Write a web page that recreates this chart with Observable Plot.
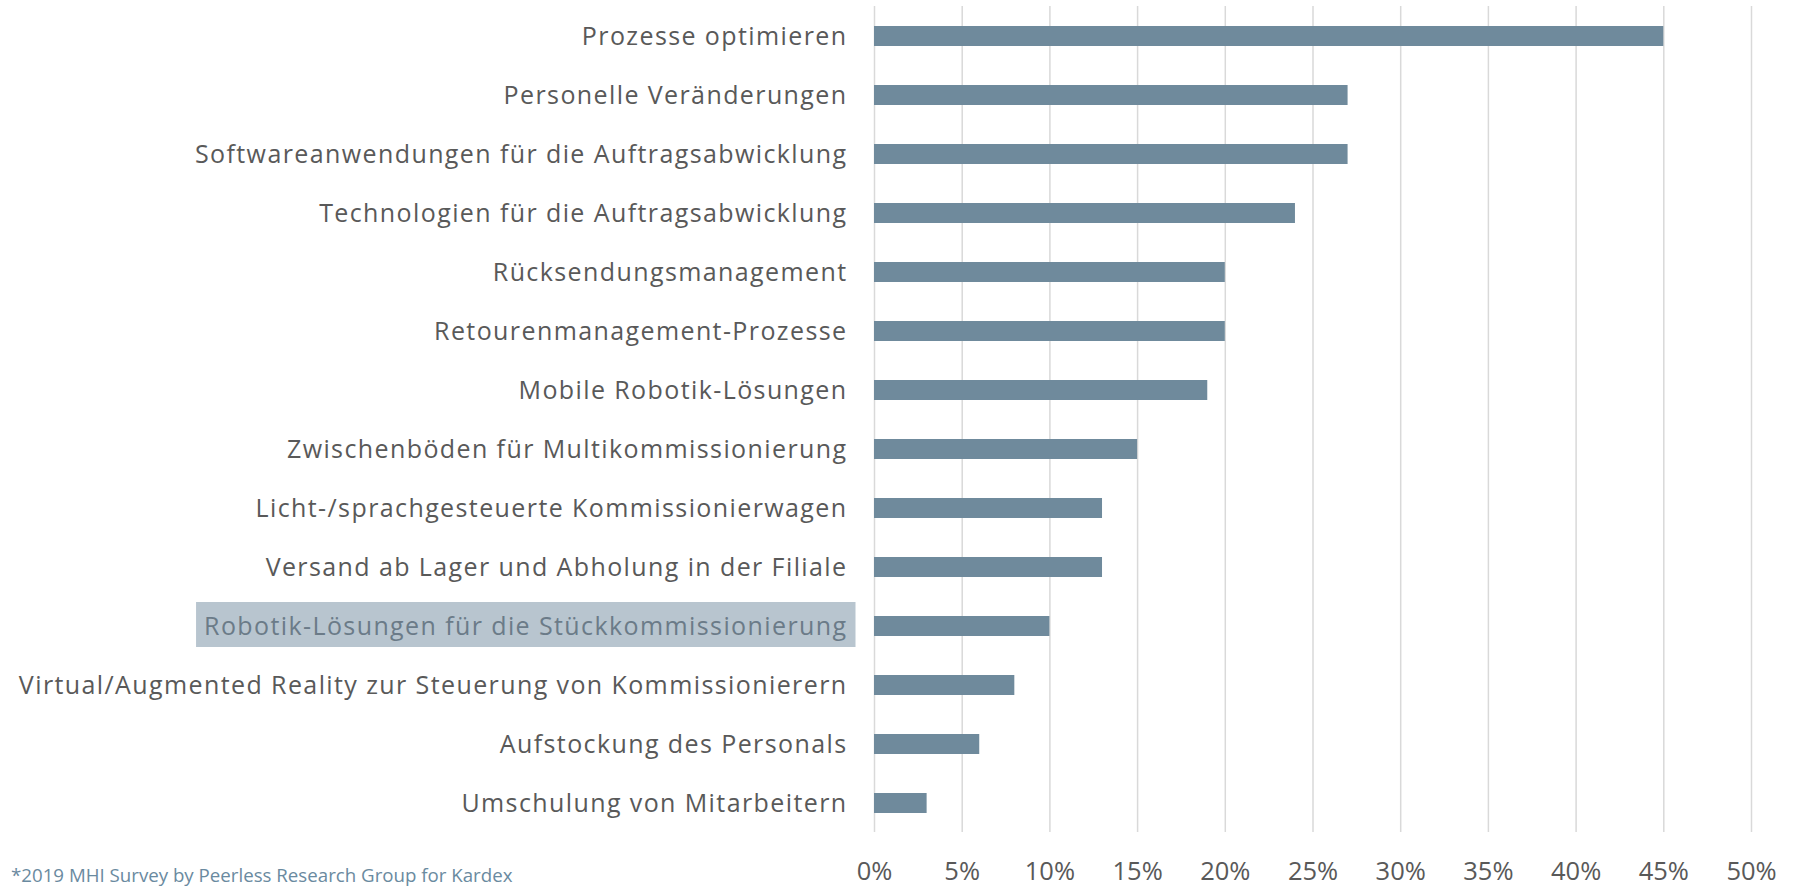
<!DOCTYPE html>
<html>
<head>
<meta charset="utf-8">
<script src="https://cdn.jsdelivr.net/npm/d3@7"></script>
<script src="https://cdn.jsdelivr.net/npm/@observablehq/plot@0.6"></script>
<style>
  html, body { margin: 0; padding: 0; background: #fff; overflow: hidden; }
  #wrap { position: relative; width: 1799px; height: 889px; font-family: "Open Sans", sans-serif; }
  #caption { position: absolute; left: 11px; top: 862px; font-size: 18.7px; color: #6a8aa0; white-space: nowrap; }
</style>
</head>
<body>
<div id="wrap">
  <div id="chart"></div>
  <div id="caption"></div>
</div>
<script>
const categories = [
  "Prozesse optimieren",
  "Personelle Veränderungen",
  "Softwareanwendungen für die Auftragsabwicklung",
  "Technologien für die Auftragsabwicklung",
  "Rücksendungsmanagement",
  "Retourenmanagement-Prozesse",
  "Mobile Robotik-Lösungen",
  "Zwischenböden für Multikommissionierung",
  "Licht-/sprachgesteuerte Kommissionierwagen",
  "Versand ab Lager und Abholung in der Filiale",
  "Robotik-Lösungen für die Stückkommissionierung",
  "Virtual/Augmented Reality zur Steuerung von Kommissionierern",
  "Aufstockung des Personals",
  "Umschulung von Mitarbeitern"
];
const values = [0.45, 0.27, 0.27, 0.24, 0.20, 0.20, 0.19, 0.15, 0.13, 0.13, 0.10, 0.08, 0.06, 0.03];
const xTicks = [0, 0.05, 0.10, 0.15, 0.20, 0.25, 0.30, 0.35, 0.40, 0.45, 0.50];
const highlighted = "Robotik-Lösungen für die Stückkommissionierung";
const captionText = "*2019 MHI Survey by Peerless Research Group for Kardex";

const data = categories.map((c, i) => ({category: c, value: values[i]}));

const chart = Plot.plot({
  width: 1799,
  height: 889,
  marginLeft: 874,
  marginRight: 48,
  marginTop: 6,
  marginBottom: 57,
  style: {fontFamily: "Open Sans, sans-serif", background: "#fff"},
  x: {domain: [0, 0.5], axis: null},
  y: {domain: categories, paddingInner: 0.662, paddingOuter: 0.304, axis: null},
  marks: [
    Plot.ruleX(xTicks, {stroke: "#d9d9d9", strokeWidth: 1.5}),
    Plot.barX(data, {y: "category", x: "value", fill: "#6f8a9c"}),
    Plot.axisX(xTicks, {
      tickSize: 0, tickPadding: 29, fontSize: 25.5, color: "#595959", label: null,
      tickFormat: d => Math.round(d * 100) + "%"
    }),
    Plot.axisY({
      tickSize: 0, tickPadding: 27, fontSize: 25, label: null,
      fill: d => d === highlighted ? "#6b7b88" : "#595959"
    })
  ]
});
document.getElementById("chart").appendChild(chart);
document.getElementById("caption").textContent = captionText;

const svg = d3.select(chart);
// widen the category labels slightly
svg.selectAll("g[aria-label='y-axis tick label'] text").style("letter-spacing", "1.4px");

// highlight box behind the highlighted category label
svg.selectAll("text").each(function() {
  if (this.textContent === highlighted) {
    const b = this.getBBox();
    const parent = this.parentNode;
    const ns = "http://www.w3.org/2000/svg";
    const r = document.createElementNS(ns, "rect");
    const m = this.transform.baseVal.consolidate();
    const t = m ? m.matrix : {e: 0, f: 0};
    r.setAttribute("x", b.x + t.e - 8);
    r.setAttribute("y", b.y + t.f + (b.height - 45) / 2);
    r.setAttribute("width", b.width + 16);
    r.setAttribute("height", 45);
    r.setAttribute("fill", "#b8c5cf");
    parent.insertBefore(r, parent.firstChild);
  }
});
</script>
</body>
</html>
